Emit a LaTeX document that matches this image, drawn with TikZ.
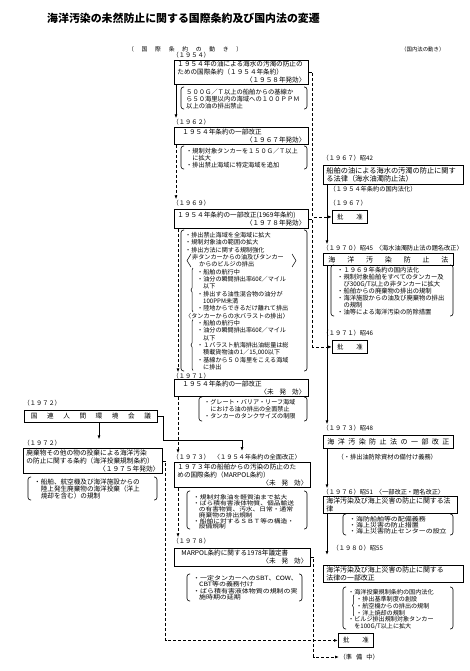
\documentclass[tikz,border=0pt]{standalone}
\usepackage{fontspec}
\setmainfont{Noto Sans CJK JP}
\newfontfamily\jpw{Noto Sans CJK JP}[FakeStretch=1.18]
\usetikzlibrary{arrows.meta,decorations.pathreplacing}
\newcommand\rt[1]{\makebox[\hsize][r]{#1}}
\newcommand\ind{\hspace*{1em}}
\newcommand\brkts[4]{%
  \draw[brk] (#1+3,#2) -- (#1,#2) -- (#1,#4) -- (#1+3,#4);
  \draw[brk] (#3-3,#2) -- (#3,#2) -- (#3,#4) -- (#3-3,#4);}
\begin{document}
\begin{tikzpicture}[x=1pt,y=-1pt,
  box/.style={draw, line width=0.85pt, anchor=north west, inner xsep=3pt, inner ysep=0pt, align=left, font=\fontsize{6.6}{8}\selectfont},
  lab/.style={anchor=west, inner sep=0.5pt, font=\fontsize{6.2}{7}\selectfont},
  note/.style={anchor=north west, inner sep=0pt, align=left, text width=130pt},
  brk/.style={line width=0.6pt, rounded corners=2.5pt},
  brace/.style={line width=0.5pt, decorate, decoration={brace, amplitude=2pt}},
  sarr/.style={line width=0.8pt, -{Latex[length=4pt,width=3pt]}},
  darr/.style={line width=0.8pt, dash pattern=on 3pt off 2pt, -{Latex[length=4pt,width=3pt]}},
  rbox/.style={draw, line width=0.85pt, anchor=north west, minimum width=35pt, minimum height=13pt, inner sep=0pt, font=\fontsize{6.4}{7}\selectfont},
]
\useasboundingbox (0,0) rectangle (469,671);
\fill[white] (0,0) rectangle (469,671);

% headings
\node[anchor=west, inner sep=0pt, font=\fontsize{10.9}{12}\selectfont\bfseries] (title) at (47,18) {海洋汚染の未然防止に関する国際条約及び国内法の変遷};
\node[anchor=west, inner sep=0pt, font=\fontsize{5.8}{7}\selectfont] (hint) at (128,49) {\hbox to 114pt{（\hfil 国\hfil 際\hfil 条\hfil 約\hfil の\hfil 動\hfil き\hfil ）}};
\node[anchor=west, inner sep=0pt, font=\fontsize{5.4}{7}\selectfont] (hdom) at (401,49) {（国内法の動き）};

% ---------- international column ----------
\node[lab] (l54) at (172,55) {（１９５４）};
\node[box, text width=128pt, minimum height=24pt] (b1) at (174,60) {１９５４年の油による海水の汚濁の防止の\\ための国際条約（１９５４年条約）\\\rt{〈１９５８年発効〉}};
\node[note, font=\fontsize{6.3}{6.8}\selectfont] (n1) at (186,89.2) {５００Ｇ／Ｔ以上の船舶からの基線か\\ら５０海里以内の海域への１００ＰＰＭ\\以上の油の排出禁止};
\brkts{181}{87}{307}{109}

\node[lab] (l62) at (172,122) {（１９６２）};
\draw[sarr] ([xshift=2pt]b1.south west) -- ([xshift=4pt]l62.north west);
\node[box, text width=128pt, minimum height=17pt] (b2) at (174,127) {\hspace*{5pt}１９５４年条約の一部改正\\\rt{〈１９６７年発効〉}};
\node[note, font=\fontsize{6.2}{7}\selectfont] (n2) at (186,147.7) {・規制対象タンカーを１５０Ｇ／Ｔ以上\\\ind に拡大\\・排出禁止海域に特定海域を追加};
\brkts{181}{146}{307}{169}

\node[lab] (l69) at (172,203) {（１９６９）};
\draw[darr] ([xshift=2pt]b2.south west) -- ([xshift=4pt]l69.north west);
\node[box, text width=128pt, minimum height=19pt] (b3) at (174,209) {１９５４年条約の一部改正(1969年条約)\\\rt{〈１９７８年発効〉}};
\node[note, font=\fontsize{6.1}{7.33}\selectfont] (n3) at (185,232.3) {・排出禁止海域を全海域に拡大\\
・規制対象油の範囲の拡大\\
・排出方法に関する規制強化\\
\hspace*{7pt}非タンカーからの油及びタンカー\\
\hspace*{14pt}からのビルジの排出\\
\hspace*{12pt}・船舶の航行中\\
\hspace*{12pt}・油分の瞬間排出率60ℓ／マイル\\
\hspace*{18pt}以下\\
\hspace*{12pt}・排出する油性混合物の油分が\\
\hspace*{18pt}100PPM未満\\
\hspace*{12pt}・陸地からできるだけ離れて排出\\
〈タンカーからの水バラストの排出〉\\
\hspace*{12pt}・船舶の航行中\\
\hspace*{12pt}・油分の瞬間排出率60ℓ／マイル\\
\hspace*{18pt}以下\\
\hspace*{12pt}・１バラスト航海排出油総量は総\\
\hspace*{18pt}積載貨物油の1／15,000以下\\
\hspace*{12pt}・基線から５０海里をこえる海域\\
\hspace*{18pt}に排出};
\brkts{181}{230}{307}{371}
\draw[line width=0.5pt] (191,254) -- (187,260.6) -- (191,267);
\draw[line width=0.5pt] (292,254) -- (296,260.6) -- (292,267);
\draw[brace] (193,312) -- (193,268);
\draw[brace] (193,370.5) -- (193,319.5);

\node[lab] (l71) at (172,376) {（１９７１）};
\draw[darr] ([xshift=4pt]b3.south west) -- ([xshift=6pt]l71.north west);
\node[box, text width=128pt, minimum height=17pt] (b4) at (174,379) {\hspace*{5pt}１９５４年条約の一部改正\\\rt{〈未\hspace{6pt}発\hspace{6pt}効〉}};
\node[note, font=\fontsize{6.1}{6.8}\selectfont] (n4) at (204,399.2) {・グレート・バリア・リーフ海域\\\ind における油の排出の全面禁止\\・タンカーのタンクサイズの制限};
\brkts{199}{397}{307}{421}

% ---------- UN conference & dumping convention ----------
\node[lab] (l72a) at (23,403) {（１９７２）};
\node[box, minimum width=133pt, minimum height=12pt] (un) at (24,410) {\hbox to 120pt{国\hfil 連\hfil 人\hfil 間\hfil 環\hfil 境\hfil 会\hfil 議}};
\node[lab] (l72b) at (23,443) {（１９７２）};
\draw[sarr] ([xshift=75pt]un.south west) -- ([xshift=76pt]l72b.north west);
\node[box, text width=133pt, minimum height=25pt, font=\fontsize{6.7}{8.2}\selectfont] (dump) at (23,448) {廃棄物その他の物の投棄による海洋汚染\\の防止に関する条約（海洋投棄規制条約）\\\rt{〈１９７５年発効〉}};
\node[note, font=\fontsize{6.6}{7}\selectfont] (nd) at (34,478.7) {・船舶、航空機及び海洋施設からの\\\ind 陸上発生廃棄物の海洋投棄（洋上\\\ind 焼却を含む）の規制};
\brkts{28}{477}{157}{500}

\coordinate (j1) at (242,440);
\coordinate (j2) at (242,451);
\draw[sarr] (un.east) -- ++(6,0) |- (j1) -- (j2);

% ---------- 1973 / 1978 ----------
\node[lab] (l73) at (172,457) {（１９７３）\hspace{4pt}〈１９５４年条約の全面改正〉};
\draw[darr] ([xshift=4pt]b4.south west) -- ([xshift=6pt]l73.north west);
\node[box, text width=130pt, minimum height=25pt] (b5) at (174,462) {１９７３年の船舶からの汚染の防止のた\\めの国際条約（MARPOL条約）\\\rt{〈未\hspace{6pt}発\hspace{6pt}効〉}};
\node[note, font=\jpw\fontsize{5.7}{5.9}\selectfont] (n5) at (193,494.4) {・規制対象油を軽質油まで拡大\\・ばら積有害液体物質、個品輸送\\\ind の有害物質、汚水、日常・通常\\\ind 廃棄物の排出規制\\・船舶に対するＳＢＴ等の構造・\\\ind 設備規制};
\brkts{187}{491}{307}{529}

\node[lab] (l78) at (172,541) {（１９７８）};
\draw[darr] ([xshift=4pt]b5.south west) -- ([xshift=6pt]l78.north west);
\node[box, text width=130pt, minimum height=18pt] (b6) at (174,548) {\hspace*{4pt}MARPOL条約に関する1978年議定書\\\rt{〈未\hspace{6pt}発\hspace{6pt}効〉}};
\node[note, font=\jpw\fontsize{5.9}{6.4}\selectfont] (n6) at (193,575.4) {・一定タンカーへのSBT、COW、\\\ind CBT等の義務付け\\・ばら積有害液体物質の規制の実\\\ind 施時期の延期};
\brkts{187}{574}{302}{601}

% ---------- domestic column ----------
\node[lab] (r67) at (322,158) {（１９６７）昭42};
\node[box, text width=134pt, minimum height=19pt, font=\fontsize{7.2}{8.6}\selectfont] (R1) at (323,165) {船舶の油による海水の汚濁の防止に関す\\る法律（海水油濁防止法）};
\node[lab] (r54) at (329,189) {（１９５４年条約の国内法化）};
\node[lab] (r67b) at (329,203) {（１９６７）};
\node[rbox] (rat1) at (332,210) {批\hspace{13pt}准};
\draw[darr] (b1.east) -- ++(4,0) |- (rat1.west);

\node[lab] (r70) at (322,248) {（１９７０）昭45\hspace{3pt}〈海水油濁防止法の題名改正〉};
\draw[sarr] ([xshift=4pt]R1.south west) -- ([xshift=5pt]r70.north west);
\node[box, minimum width=130pt, minimum height=12pt, font=\fontsize{7}{8}\selectfont] (R2) at (323,253) {\hbox to 120pt{海\hfil 洋\hfil 汚\hfil 染\hfil 防\hfil 止\hfil 法}};
\node[note, font=\fontsize{6.3}{7}\selectfont] (nr2) at (337,267.2) {・１９６９年条約の国内法化\\・規制対象船舶をすべてのタンカー及\\\ind び300G/T以上の非タンカーに拡大\\・船舶からの廃棄物の排出の規制\\・海洋施設からの油及び廃棄物の排出\\\ind の規制\\・油等による海洋汚染の防除措置};
\brkts{331}{265}{453}{316}

\node[lab] (r71) at (322,333) {（１９７１）昭46};
\node[rbox] (rat2) at (332,340) {批\hspace{13pt}准};
\draw[darr] (b3.east) -- ++(4,0) |- (rat2.west);

\node[lab] (r73) at (322,428) {（１９７３）昭48};
\draw[sarr] ([xshift=4pt]R2.south west) -- ([xshift=5pt]r73.north west);
\node[box, minimum width=130pt, minimum height=13pt, font=\fontsize{7}{8}\selectfont] (R3) at (323,435) {\hbox to 122pt{海\hfil 洋\hfil 汚\hfil 染\hfil 防\hfil 止\hfil 法\hfil の\hfil 一\hfil 部\hfil 改\hfil 正}};
\node[lab] (r73n) at (337,457) {（・排出油防除資材の備付け義務）};

\node[lab] (r76) at (322,492) {（１９７６）昭51\hspace{3pt}〈一部改正・題名改正〉};
\draw[sarr] ([xshift=4pt]R3.south west) -- ([xshift=5pt]r76.north west);
\node[box, text width=128pt, minimum height=17pt, font=\fontsize{6.9}{8.2}\selectfont] (R4) at (323,496) {海洋汚染及び海上災害の防止に関する法\\律};
\node[note, font=\jpw\fontsize{5.9}{6.2}\selectfont] (nr4) at (349,516.3) {・海防船舶等の配備義務\\・海上災害の防止措置\\・海上災害防止センターの設立};
\brkts{343}{514}{453}{535}

\node[lab] (r80) at (332,548) {（１９８０）昭55};
\node[box, text width=134pt, minimum height=17pt, font=\fontsize{6.9}{8.2}\selectfont] (R5) at (323,565) {海洋汚染及び海上災害の防止に関する\\法律の一部改正};
\draw[sarr] ([xshift=4pt]R4.south west) -- ([xshift=4pt,yshift=10pt]R5.north west);
\node[note, font=\fontsize{6.1}{6.8}\selectfont] (nr5) at (348,589.3) {・海洋投棄規制条約の国内法化\\\hspace*{8pt}・排出基準制度の創設\\\hspace*{8pt}・航空機からの排出の規制\\\hspace*{8pt}・洋上焼却の規制\\・ビルジ排出規制対象タンカー\\\ind を100G/T以上に拡大};
\brkts{343}{587}{453}{629}
\draw[line width=0.5pt, decorate, decoration={brace, amplitude=1.5pt}] (354,616) -- (354,595);

\node[rbox, minimum height=14pt] (rat3) at (338,633) {批\hspace{13pt}准};
\node[lab] (prep) at (339,657) {（準\hspace{4pt}備\hspace{4pt}中）};
\draw[darr] (dump.east) -- ++(3,0) |- (rat3.west);
\draw[darr] (b6.east) -- ++(3,0) |- (prep.west);
\end{tikzpicture}
\end{document}
